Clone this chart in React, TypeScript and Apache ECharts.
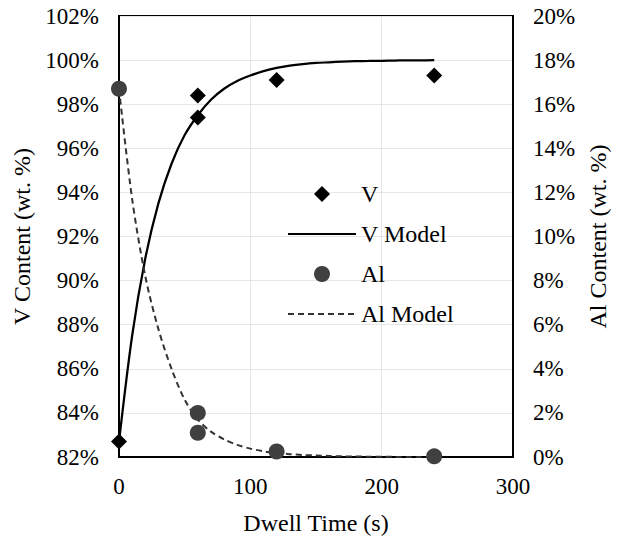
import React, { useEffect, useRef } from "react";
import * as echarts from "echarts";

const vTimes = [0, 60, 60, 120, 240];
const vValues = [82.7, 98.4, 97.4, 99.1, 99.3];
const alTimes = [0, 60, 60, 120, 240];
const alValues = [16.7, 2.0, 1.1, 0.25, 0.03];

const modelTimes = [0, 10, 20, 30, 40, 50, 60, 70, 80, 90, 100, 110, 120, 130, 140, 150, 160, 170, 180, 190, 200, 210, 220, 230, 240];
const vModel = [82.7, 87.5, 91.0, 93.5, 95.3, 96.6, 97.5, 98.2, 98.7, 99.05, 99.3, 99.5, 99.65, 99.75, 99.82, 99.87, 99.9, 99.93, 99.95, 99.96, 99.97, 99.98, 99.99, 99.99, 100.0];
const alModel = [16.7, 11.7, 8.2, 5.8, 4.0, 2.6, 1.7, 1.15, 0.8, 0.55, 0.38, 0.26, 0.18, 0.13, 0.09, 0.07, 0.05, 0.03, 0.02, 0.015, 0.01, 0.005, 0.0, 0.0, 0.0];

const xTicks = { min: 0, max: 300, interval: 100 };
const leftTicks = { min: 82, max: 102, interval: 2 };
const rightTicks = { min: 0, max: 20, interval: 2 };

const FONT = "Liberation Serif, Times New Roman, serif";

export default function App() {
  const ref = useRef<HTMLDivElement>(null);
  useEffect(() => {
    document.body.style.margin = "0";
    if (!ref.current) return;
    const chart = echarts.init(ref.current, null, { renderer: "svg" });
    const pair = (xs: number[], ys: number[]) => xs.map((x, i) => [x, ys[i]]);
    chart.setOption({
      animation: false,
      backgroundColor: "#fff",
      textStyle: { fontFamily: FONT, color: "#000" },
      grid: {
        left: 119,
        right: 107,
        top: 16,
        bottom: 80,
        containLabel: false,
        outerBoundsMode: "none",
        show: true,
        borderColor: "#000",
        borderWidth: 2,
        backgroundColor: "transparent",
      },
      legend: {
        orient: "vertical",
        left: 282,
        top: 177,
        itemWidth: 68,
        itemHeight: 16,
        itemGap: 16,
        symbolKeepAspect: true,
        data: [
          { name: "V", icon: "path://M0,-1L1,0L0,1L-1,0Z" },
          { name: "V Model", itemStyle: { opacity: 0 } },
          { name: "Al", icon: "circle" },
          { name: "Al Model", itemStyle: { opacity: 0 } },
        ],
        textStyle: { fontFamily: FONT, fontSize: 24, color: "#000", lineHeight: 24 },
      },
      xAxis: {
        type: "value",
        ...xTicks,
        name: "Dwell Time (s)",
        nameLocation: "middle",
        nameGap: 54,
        nameTextStyle: { fontFamily: FONT, fontSize: 24, color: "#000" },
        axisLine: { show: true, lineStyle: { color: "#000", width: 2 } },
        axisTick: { show: false },
        axisLabel: { fontFamily: FONT, fontSize: 23, color: "#000", margin: 18 },
        splitLine: { show: true, lineStyle: { color: "#e6e6e6", width: 1 } },
      },
      yAxis: [
        {
          type: "value",
          ...leftTicks,
          name: "V Content (wt. %)",
          nameLocation: "middle",
          nameGap: 77,
          nameTextStyle: { fontFamily: FONT, fontSize: 24, color: "#000" },
          axisLine: { show: true, lineStyle: { color: "#000", width: 2 } },
          axisTick: { show: false },
          axisLabel: { fontFamily: FONT, fontSize: 23, color: "#000", margin: 20, formatter: "{value}%" },
          splitLine: { show: true, lineStyle: { color: "#e6e6e6", width: 1 } },
        },
        {
          type: "value",
          ...rightTicks,
          name: "Al Content (wt. %)",
          nameLocation: "middle",
          nameGap: 48,
          nameRotate: 90,
          nameTextStyle: { fontFamily: FONT, fontSize: 24, color: "#000" },
          axisLine: { show: true, lineStyle: { color: "#000", width: 2 } },
          axisTick: { show: false },
          axisLabel: { fontFamily: FONT, fontSize: 23, color: "#000", margin: 20, formatter: "{value}%" },
          splitLine: { show: false },
        },
      ],
      series: [
        {
          name: "V Model",
          type: "line",
          yAxisIndex: 0,
          data: pair(modelTimes, vModel),
          showSymbol: false,
          symbol: "none",
          smooth: 0.3,
          lineStyle: { color: "#000", width: 2.25 },
          itemStyle: { color: "#000" },
          z: 2,
        },
        {
          name: "Al Model",
          type: "line",
          yAxisIndex: 1,
          data: pair(modelTimes, alModel),
          showSymbol: false,
          symbol: "none",
          smooth: 0.3,
          lineStyle: { color: "#333", width: 2, type: [6, 4] },
          itemStyle: { color: "#333" },
          z: 2,
        },
        {
          name: "V",
          type: "scatter",
          yAxisIndex: 0,
          data: pair(vTimes, vValues),
          symbol: "diamond",
          symbolSize: 16,
          itemStyle: { color: "#000", opacity: 1 },
          z: 3,
        },
        {
          name: "Al",
          type: "scatter",
          yAxisIndex: 1,
          data: pair(alTimes, alValues),
          symbol: "circle",
          symbolSize: 16,
          itemStyle: { color: "#404040", opacity: 1 },
          z: 3,
        },
      ],
    });
    return () => chart.dispose();
  }, []);
  return <div ref={ref} style={{ width: 620, height: 537 }} />;
}
